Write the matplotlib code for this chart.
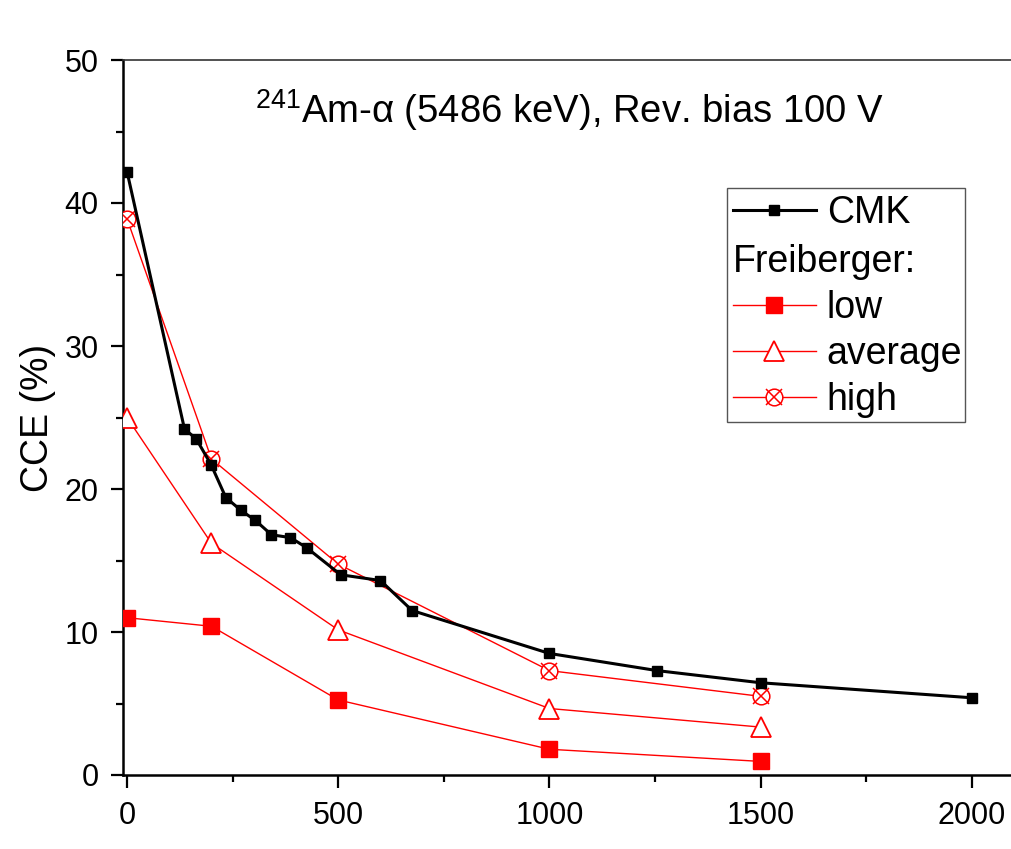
import matplotlib
matplotlib.use("Agg")
import matplotlib.pyplot as plt
from matplotlib.legend_handler import HandlerTuple
from matplotlib.patches import Rectangle
from matplotlib.ticker import MultipleLocator

# ---------------------------------------------------------------------------
# data
# ---------------------------------------------------------------------------
cmk_x = [0, 136, 164, 199, 234, 270, 304, 342, 387, 425, 506, 600, 675, 1000, 1255, 1500, 2000]
cmk_y = [42.2, 24.2, 23.5, 21.7, 19.4, 18.5, 17.8, 16.8, 16.6, 15.9, 14.0, 13.6, 11.5, 8.5, 7.3, 6.45, 5.4]

frb_x = [0, 200, 500, 1000, 1500]
frb_low = [11.0, 10.4, 5.25, 1.8, 0.95]
frb_avg = [25.0, 16.2, 10.15, 4.65, 3.35]
frb_high = [38.9, 22.1, 14.75, 7.3, 5.5]

title_text = r"$^{241}$Am-α (5486 keV), Rev. bias 100 V"

plt.rcParams["font.family"] = ["Liberation Sans", "DejaVu Sans"]
plt.rcParams["mathtext.fontset"] = "custom"
plt.rcParams["mathtext.rm"] = "Liberation Sans"
plt.rcParams["mathtext.it"] = "Liberation Sans:italic"

fig = plt.figure(figsize=(10.12, 8.49), dpi=100)
ax = fig.add_axes([123 / 1012, 1 - 775 / 849, 889 / 1012, 715 / 849])

red = "#ff0000"
cmk_line, = ax.plot(cmk_x, cmk_y, color="black", lw=2.2, marker="s", ms=7, zorder=4)
low_line, = ax.plot(frb_x, frb_low, color=red, lw=1.0, marker="s", ms=12, zorder=3)
avg_line, = ax.plot(frb_x, frb_avg, color=red, lw=1.0, marker="^", ms=14,
                    mfc="white", mec=red, mew=1.3, zorder=3)
high_line, = ax.plot(frb_x, frb_high, color=red, lw=1.0, marker="o", ms=12,
                     mfc="white", mec=red, mew=1.1, zorder=3)
high_x, = ax.plot(frb_x, frb_high, ls="none", marker="x", ms=11.5,
                  mec=red, mew=1.1, zorder=3)

ax.set_xlim(-9.5, 2095)
ax.set_ylim(0, 50)
ax.xaxis.set_major_locator(MultipleLocator(500))
ax.xaxis.set_minor_locator(MultipleLocator(250))
ax.yaxis.set_major_locator(MultipleLocator(10))
ax.yaxis.set_minor_locator(MultipleLocator(5))
ax.tick_params(which="both", direction="out", top=False, right=False, width=1.6,
               labelsize=22)
ax.tick_params(which="major", length=9)
ax.tick_params(which="minor", length=5)
ax.tick_params(axis="x", which="major", pad=10)
ax.tick_params(axis="y", which="major", pad=8.5)

ax.spines["right"].set_visible(False)
ax.spines["left"].set_linewidth(1.8)
ax.spines["bottom"].set_linewidth(1.8)
ax.spines["top"].set_linewidth(1.2)
ax.spines["top"].set_color("#333333")

ax.set_ylabel("CCE (%)", fontsize=27, labelpad=6)

ax.text(0.502, 0.93, title_text, transform=ax.transAxes, ha="center", va="center",
        fontsize=27.5)

# legend: CMK on top, "Freiberger:" heading, then the three samples
leg1 = ax.legend([cmk_line], ["CMK"], loc="center left",
                 bbox_to_anchor=(0.6862, 0.7864), frameon=False, fontsize=27,
                 handlelength=2.2, handletextpad=0.3, borderpad=0, borderaxespad=0)
ax.add_artist(leg1)

ax.text(0.6862, 0.7179, "Freiberger:", transform=ax.transAxes, ha="left",
        va="center", fontsize=27)

ax.legend([low_line, avg_line, (high_line, high_x)], ["low", "average", "high"],
          handler_map={tuple: HandlerTuple(ndivide=1, pad=0)},
          loc="center left", bbox_to_anchor=(0.6862, 0.589), frameon=False,
          fontsize=27, handlelength=2.2, handletextpad=0.3, borderpad=0,
          borderaxespad=0, labelspacing=0.27)

ax.add_patch(Rectangle((0.6796, 0.4941), 0.9474 - 0.6796, 0.8214 - 0.4941,
                       transform=ax.transAxes, fill=False, ec="#555555", lw=1.0,
                       zorder=5))

fig.savefig("out.png", dpi=100)
